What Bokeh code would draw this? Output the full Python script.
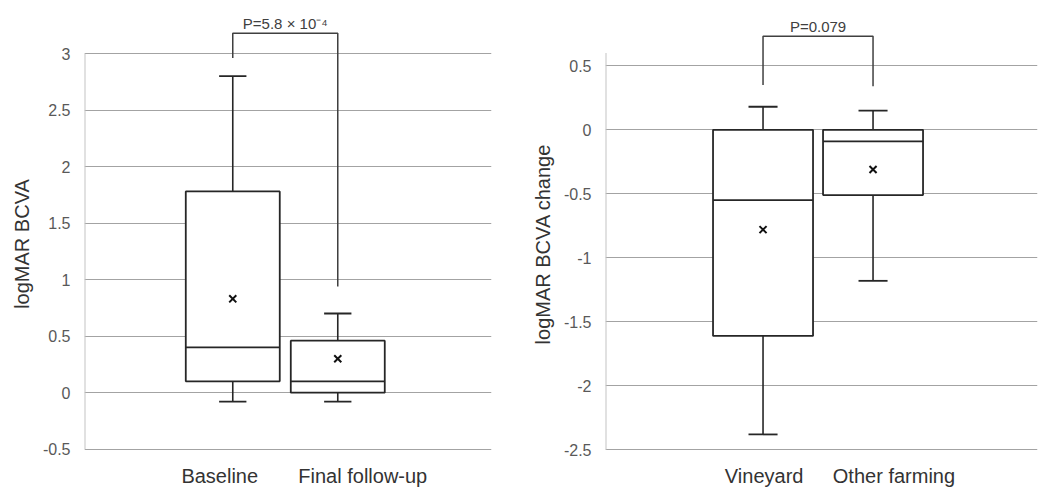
from bokeh.plotting import figure
from bokeh.layouts import row
from bokeh.models import FixedTicker, Range1d, ColumnDataSource
from bokeh.core.properties import value
from bokeh.embed import file_html
from bokeh.resources import INLINE

# ---------------- data ----------------
left_groups = ["Baseline", "Final follow-up"]
left_low = [-0.08, -0.08]
left_q1 = [0.10, 0.00]
left_median = [0.40, 0.10]
left_q3 = [1.78, 0.46]
left_high = [2.80, 0.70]
left_mean = [0.83, 0.30]
left_ticks = [-0.5, 0, 0.5, 1, 1.5, 2, 2.5, 3]
left_ylabel = "logMAR BCVA"
left_p = "P=5.8 × 10⁻⁴"
left_bracket_top = 3.18
left_bracket_ends = [2.96, 0.94]

right_groups = ["Vineyard", "Other farming"]
right_low = [-2.38, -1.18]
right_q1 = [-1.61, -0.51]
right_median = [-0.55, -0.09]
right_q3 = [0.00, 0.00]
right_high = [0.18, 0.15]
right_mean = [-0.78, -0.31]
right_ticks = [-2.5, -2, -1.5, -1, -0.5, 0, 0.5]
right_ylabel = "logMAR BCVA change"
right_p = "P=0.079"
right_bracket_top = 0.73
right_bracket_ends = [0.35, 0.34]

FONT = "Liberation Sans"
DARK = "#262626"
GRID = "#a3a3a3"
H = 487


def panel(groups, low, q1, med, q3, high, mean, ticks, ylabel, ptext,
          btop, bends, width, border_left, border_right, xr, yr, box_w, cap_w,
          label_shift, spine_top):
    p = figure(width=width, height=H, output_backend="svg", toolbar_location=None,
               x_range=Range1d(*xr), y_range=Range1d(*yr), x_axis_location=None,
               min_border_left=border_left, min_border_right=border_right,
               min_border_top=0, min_border_bottom=0)
    p.outline_line_color = None
    p.background_fill_color = "white"
    p.border_fill_color = "white"

    n = len(groups)
    xs = [i + 1 for i in range(n)]
    ppu = H / (yr[1] - yr[0])  # pixels per y unit

    # y axis
    ax = p.yaxis[0]
    ax.ticker = FixedTicker(ticks=ticks)
    ax.major_label_overrides = {t: f"{t:g}" for t in ticks}
    ax.axis_line_color = None
    ax.major_tick_line_color = None
    ax.minor_tick_line_color = None
    ax.major_label_standoff = 8
    ax.major_label_text_font = FONT
    ax.major_label_text_font_size = "16px"
    ax.major_label_text_color = "#595959"
    ax.axis_label = ylabel
    ax.axis_label_text_font = FONT
    ax.axis_label_text_font_size = "20px"
    ax.axis_label_text_font_style = "normal"
    ax.axis_label_text_color = "#333333"
    ax.axis_label_standoff = 7

    p.xgrid.visible = False
    p.ygrid.ticker = FixedTicker(ticks=ticks)
    p.ygrid.grid_line_color = GRID
    p.ygrid.grid_line_width = 1

    # left spine
    p.segment(x0=[xr[0]], x1=[xr[0]], y0=[ticks[0]], y1=[spine_top],
              line_color="#c4c4c4", line_width=2)

    src = ColumnDataSource(dict(
        x=xs,
        l=[x - box_w / 2 for x in xs], r=[x + box_w / 2 for x in xs],
        cl=[x - cap_w / 2 for x in xs], cr=[x + cap_w / 2 for x in xs],
        low=low, q1=q1, med=med, q3=q3, high=high, mean=mean))

    # whiskers
    p.segment(x0="x", x1="x", y0="q3", y1="high", source=src, line_color=DARK, line_width=1.6)
    p.segment(x0="x", x1="x", y0="q1", y1="low", source=src, line_color=DARK, line_width=1.6)
    p.segment(x0="cl", x1="cr", y0="high", y1="high", source=src, line_color=DARK, line_width=1.8)
    p.segment(x0="cl", x1="cr", y0="low", y1="low", source=src, line_color=DARK, line_width=1.8)
    # boxes
    p.quad(left="l", right="r", bottom="q1", top="q3", source=src,
           fill_color="white", line_color=DARK, line_width=1.8)
    p.segment(x0="l", x1="r", y0="med", y1="med", source=src, line_color=DARK, line_width=1.8)
    # mean
    p.scatter(x="x", y="mean", source=src, marker="x", size=10, line_width=2,
              line_color="#111111")

    # bracket
    p.line(x=[xs[0], xs[0], xs[1], xs[1]], y=[bends[0], btop, btop, bends[1]],
           line_color="#404040", line_width=1.5)
    p.text(x=[(xs[0] + xs[1]) / 2], y=[btop + 10 / ppu], text=[ptext],
           text_font=value(FONT), text_font_size="15px", text_color="#404040",
           text_align="center", text_baseline="alphabetic")

    # category labels
    ly = ticks[0] - 26.5 / ppu
    p.text(x=[x + s for x, s in zip(xs, label_shift)], y=[ly] * n, text=groups,
           text_font=value(FONT), text_font_size="20px", text_color="#333333",
           text_align="center", text_baseline="alphabetic")
    return p


p1 = panel(left_groups, left_low, left_q1, left_median, left_q3, left_high, left_mean,
           left_ticks, left_ylabel, left_p, left_bracket_top, left_bracket_ends,
           width=518, border_left=84, border_right=27,
           xr=(-0.412, 3.464), yr=(-0.839, 3.469),
           box_w=0.895, cap_w=0.26, label_shift=[-0.124, 0.238], spine_top=3)
p2 = panel(right_groups, right_low, right_q1, right_median, right_q3, right_high, right_mean,
           right_ticks, right_ylabel, right_p, right_bracket_top, right_bracket_ends,
           width=533, border_left=87, border_right=14,
           xr=(-0.432, 3.495), yr=(-2.7945, 1.010),
           box_w=0.909, cap_w=0.264, label_shift=[0.01, 0.19], spine_top=0.6)

layout = row(p1, p2)
open("out.html", "w").write(file_html(layout, INLINE))
